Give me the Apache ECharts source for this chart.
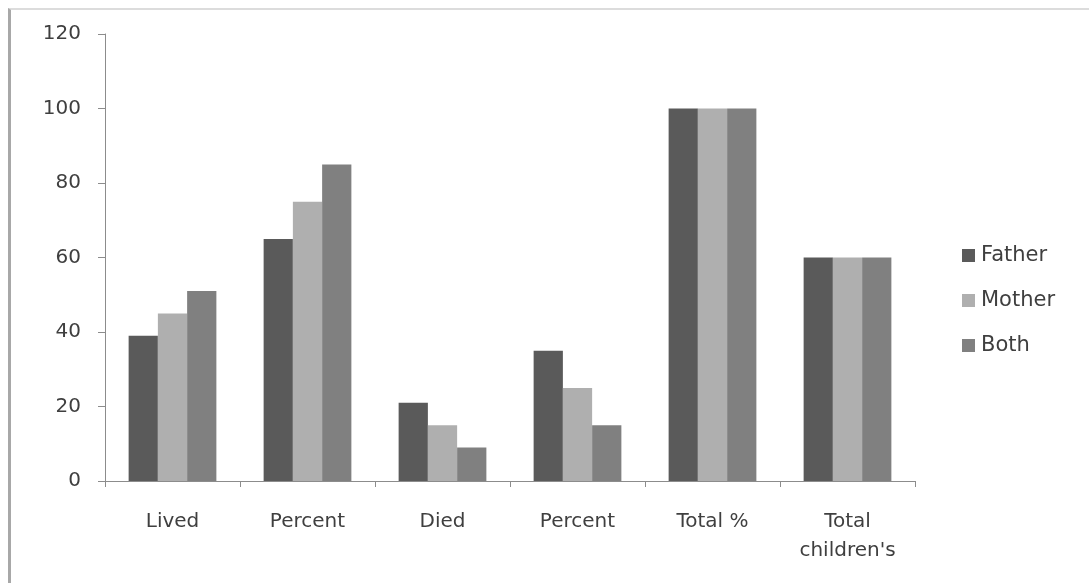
<!DOCTYPE html>
<html>
<head>
<meta charset="utf-8">
<script src="https://cdn.jsdelivr.net/npm/echarts@6/dist/echarts.min.js"></script>
<style>
  html, body { margin: 0; padding: 0; background: #ffffff; }
  #frame { position: absolute; left: 8px; top: 8px; width: 1081px; height: 575px;
           border-left: 3px solid #a8a8a8; border-top: 2px solid #dcdcdc; box-sizing: border-box; }
  #chart { position: absolute; left: 0; top: 0; width: 1089px; height: 583px; }
</style>
</head>
<body>
<div id="frame"></div>
<div id="chart"></div>
<script>
// Categories along the x axis
const categories = ['Lived', 'Percent', 'Died', 'Percent', 'Total %', 'Total\nchildren\'s'];
// Series values
const fatherValues = [39, 65, 21, 35, 100, 60];
const motherValues = [45, 75, 15, 25, 100, 60];
const bothValues   = [51, 85, 9, 15, 100, 60];
// Y axis range
const yMin = 0, yMax = 120, yStep = 20;

const labelFont = { fontFamily: 'DejaVu Sans', fontSize: 20, color: '#3f3f3f' };
const chart = echarts.init(document.getElementById('chart'), null, { renderer: 'canvas' });

function barSeries(name, data, color) {
  return { name, type: 'bar', data, barGap: '0%', barCategoryGap: '35%',
           itemStyle: { color }, emphasis: { disabled: true } };
}

chart.setOption({
  animation: false,
  grid: { left: 105, right: 174, top: 34, bottom: 102 },
  legend: {
    orient: 'vertical', left: 957, top: 240, itemGap: 24,
    itemWidth: 13, itemHeight: 13, icon: 'rect',
    textStyle: { fontFamily: 'DejaVu Sans', fontSize: 21, color: '#3f3f3f', padding: [0, 0, 0, 1] },
    data: ['Father', 'Mother', 'Both']
  },
  xAxis: {
    type: 'category', data: categories,
    axisLine: { lineStyle: { color: '#8c8c8c', width: 1 } },
    axisTick: { show: true, length: 6, lineStyle: { color: '#8c8c8c' } },
    axisLabel: Object.assign({ margin: 26, lineHeight: 29, interval: 0 }, labelFont)
  },
  yAxis: {
    type: 'value', min: yMin, max: yMax, interval: yStep,
    axisLine: { show: true, lineStyle: { color: '#8c8c8c', width: 1 } },
    axisTick: { show: true, length: 7, lineStyle: { color: '#8c8c8c' } },
    splitLine: { show: false },
    axisLabel: Object.assign({ margin: 24 }, labelFont)
  },
  series: [
    barSeries('Father', fatherValues, '#5a5a5a'),
    barSeries('Mother', motherValues, '#afafaf'),
    barSeries('Both', bothValues, '#808080')
  ]
});
</script>
</body>
</html>
